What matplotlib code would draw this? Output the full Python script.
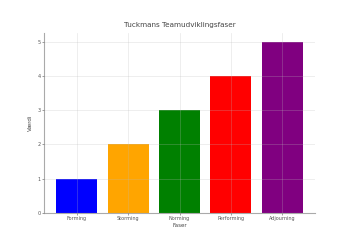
import matplotlib
matplotlib.use("Agg")
import matplotlib.pyplot as plt

faser = ["Forming", "Storming", "Norming", "Performing", "Adjourning"]
vaerdier = [1, 2, 3, 4, 5]
farver = ["blue", "orange", "green", "red", "purple"]

fig = plt.figure(figsize=(3.5, 2.5), dpi=100)
ax = fig.add_axes([0.126, 0.148, 0.774, 0.72])
ax.bar(faser, vaerdier, color=farver, zorder=1)
ax.grid(True, color="#bbbbbb", linewidth=0.5, alpha=0.35, zorder=2)
ax.set_axisbelow(False)

ax.set_title("Tuckmans Teamudviklingsfaser", fontsize=5.2, color="#444444", pad=4)
ax.set_xlabel("Faser", fontsize=4, color="#444444", labelpad=1)
ax.set_ylabel("Værdi", fontsize=4, color="#444444", labelpad=3)
ax.tick_params(labelsize=3.5, colors="#555555", length=1.5, width=0.4, pad=1)
for s in ("top", "right"):
    ax.spines[s].set_visible(False)
for s in ("left", "bottom"):
    ax.spines[s].set_color("#aaaaaa")
    ax.spines[s].set_linewidth(0.8)

fig.savefig("out.png", dpi=100)
